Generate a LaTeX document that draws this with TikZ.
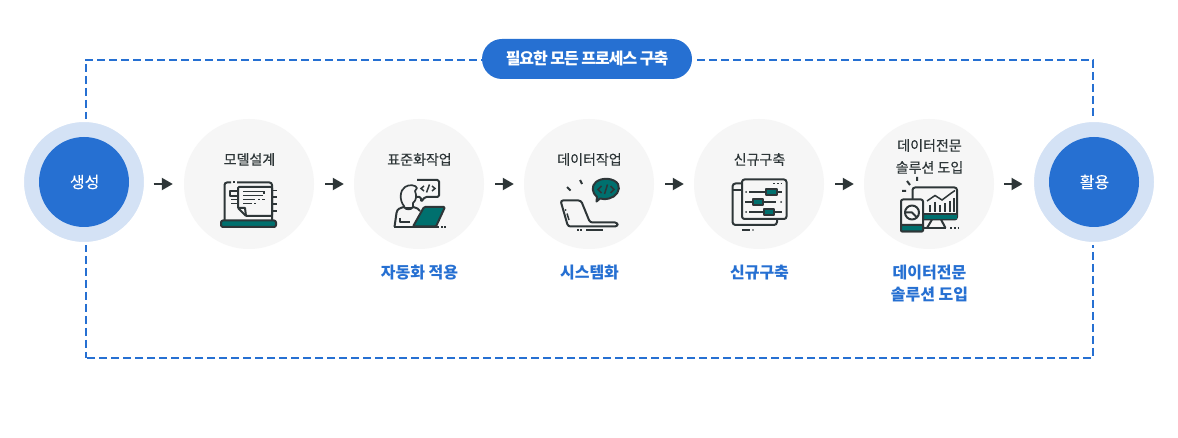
\documentclass[tikz,border=0pt]{standalone}
\usepackage{fontspec}
\setmainfont{Noto Sans CJK KR}
\newfontfamily\medfont[FakeBold=0.4]{Noto Sans CJK KR}
\newfontfamily\headf[LetterSpace=-6.5]{Noto Sans CJK KR}
\usetikzlibrary{calc,arrows.meta}
\definecolor{brand}{HTML}{2670D2}
\definecolor{halo}{HTML}{D4E2F5}
\definecolor{disc}{HTML}{F6F6F6}
\definecolor{ink}{HTML}{2E3638}
\definecolor{teal}{HTML}{00706E}
\tikzset{
  x=1pt,y=-1pt,
  endouter/.style={circle,fill=halo,draw=white,line width=3pt,minimum size=123pt,inner sep=0pt},
  endinner/.style={circle,fill=brand,minimum size=90pt,inner sep=0pt,text=white,font=\medfont\fontsize{16}{16}\selectfont},
  stepdisc/.style={circle,fill=disc,minimum size=130pt,inner sep=0pt},
  steptext/.style={text=ink,inner sep=0pt,align=center,font=\medfont\fontsize{14}{22}\selectfont},
  bluetext/.style={text=brand,inner sep=0pt,align=center,font=\bfseries\fontsize{16}{22}\selectfont},
  pill/.style={rounded corners=20pt,fill=brand,minimum width=210pt,minimum height=40pt,inner sep=0pt,text=white,font=\headf\bfseries\fontsize{16}{16}\selectfont},
  frame/.style={draw=brand,line width=2pt,dash pattern=on 8pt off 4pt},
  flow/.style={draw=ink,line width=2pt,-{Triangle[length=11pt,width=12pt]}},
  ic/.style={draw=ink,line width=2pt,line join=round},
  icf/.style={ic,fill=teal},
  thin/.style={draw=ink,line width=1.5pt},
}
\begin{document}
\begin{tikzpicture}
\useasboundingbox[fill=white] (0,0) rectangle (1178,438);
% frame
\draw[frame] (85,60) -- (1093,60) -- (1093,358) -- (86,358);
\draw[frame] (86,64) -- (86,358);
% pill
\fill[white] (690,50) rectangle (697,70);
\node[pill] (head) at (587,59) {\raisebox{-0.7pt}{필요한 모든 프로세스 구축}};
% main circles
\node[endouter] (startO) at (84,182) {};
\node[endinner] (start) at (84,182) {\hspace*{1.4pt}생성};
\node[stepdisc] (s1) at (249,184) {};
\node[stepdisc] (s2) at (419,184) {};
\node[stepdisc] (s3) at (589,184) {};
\node[stepdisc] (s4) at (759,184) {};
\node[stepdisc] (s5) at (929,184) {};
\node[endouter] (endO) at (1094,182) {};
\node[endinner] (end) at (1094,182) {\hspace*{1pt}활용};
% connectors
\draw[flow] ($(startO.east)+(6.5,2)$) -- ($(s1.west)+(-11,0)$);
\draw[flow] ($(s1.east)+(11,0)$) -- ($(s2.west)+(-10,0)$);
\draw[flow] ($(s2.east)+(11,0)$) -- ($(s3.west)+(-10,0)$);
\draw[flow] ($(s3.east)+(11,0)$) -- ($(s4.west)+(-10,0)$);
\draw[flow] ($(s4.east)+(11,0)$) -- ($(s5.west)+(-10,0)$);
\draw[flow] ($(s5.east)+(10,0)$) -- ($(endO.west)+(-8.5,2)$);
% labels
\node[steptext] (l1) at (249.5,159.5) {모델설계};
\node[steptext] (l2) at (419.5,159.5) {표준화작업};
\node[steptext] (l3) at (589.5,159.5) {데이터작업};
\node[steptext] (l4) at (759.5,159.5) {신규구축};
\node[steptext] (l5) at (929.5,156.5) {데이터전문\\솔루션 도입};
\node[bluetext] (b2) at (419.5,272.8) {자동화 적용};
\node[bluetext] (b3) at (589.5,272.8) {시스템화};
\node[bluetext] (b4) at (759.5,272.8) {신규구축};
\node[bluetext] (b5) at (929.5,283.8) {데이터전문\\솔루션 도입};
% icon 1
\draw[ic,rounded corners=2.5pt] (224.5,220) -- (224.5,182.5) -- (231,182.5);
\draw[ic] (233,182.5) -- (235,182.5);
\draw[ic,rounded corners=2.5pt] (237,182.5) -- (272,182.5) -- (272,220);
\draw[icf,rounded corners=2pt] (221,220.5) rectangle (276,227);
\draw[ic,fill=disc] (230,191.5) rectangle (238,196);
\draw[thin] (231,199.5) -- (238,199.5) (231,203.5) -- (238,203.5);
\draw[ic,fill=disc,rounded corners=1pt] (238,187) -- (272,187) -- (272,216) -- (246,216) -- (238,208) -- cycle;
\draw[ic] (238,208) -- (245,208) -- (246,216);
\draw[thin] (243,191.5) -- (264,191.5) -- (264,194) (243,195.5) -- (263,195.5) (243,199.5) -- (255,199.5) (258,199.5) -- (260,199.5) (262,199.5) -- (265,199.5) (243,203.5) -- (252,203.5) (254,203.5) -- (256,203.5);
\draw[thin] (272,190.5) -- (277,190.5) (272,197) -- (277,197) (272,204) -- (277,204) (272,211) -- (277,211);
% icon 2
\draw[ic,rounded corners=1.5pt] (417,180) -- (439,180) -- (439,197) -- (425,197) -- (421,202) -- (421,197) -- (417,197);
\draw[thin] (424,186) -- (421,188.5) -- (424,191) (432,186) -- (435,188.5) -- (432,191) (429.5,184.5) -- (426.5,192.5);
\draw[ic,line width=1.7pt,fill=disc] (404,206) .. controls (399,200) and (400,190) .. (405,187) .. controls (409,184) and (416,185) .. (417,188) -- (415,191) .. controls (416.5,195) and (417,200) .. (413,203) -- (413,208) -- (404,208) -- cycle;
\draw[ic,fill=disc] (394.5,227) -- (396.5,213) .. controls (397,209) and (400,208) .. (404,207) .. controls (406,210) and (411,210) .. (413,207) .. controls (417,208) and (419,209) .. (420,211);
\draw[ic] (400,218) -- (400,222.5) -- (410,222.5);
\draw[icf,rounded corners=1.2pt] (424,207) -- (445,207) -- (436,226.5) -- (413,226.5) -- cycle;
\draw[ic] (394,227) -- (439,227);
\draw[thin,dash pattern=on 1.6pt off 1.6pt] (441,227) -- (446,227);
% icon 3
\draw[ic,rounded corners=2.5pt] (590,222.5) -- (581,200.5) -- (560.5,200.5) -- (568,226.5) -- (617.5,226.5) -- (617.5,222.5) -- cycle;
\draw[thin] (567,213.5) -- (569,220);
\fill[ink] (565.5,210) circle (1pt);
\draw[ic] (567,187) -- (570.5,190.5) (580,180) -- (582,184);
\draw[icf] (597,197) .. controls (592,193) and (591,186) .. (596,182) .. controls (602,177) and (614,178) .. (618,184) .. controls (621,190) and (616,197) .. (609,198.5) .. controls (605,199.5) and (602,199) .. (600,198.5) -- (596.5,201.5) -- cycle;
\draw[thin] (601.5,186) -- (598,189.5) -- (601.5,193) (610.5,186) -- (614,189.5) -- (610.5,193) (607.5,184.5) -- (604.5,194);
\draw[thin,dash pattern=on 1.6pt off 1.6pt] (577,230) -- (583,230);
\draw[thin] (586,230) -- (603,230);
% icon 4
\draw[ic,rounded corners=3pt] (742,183.5) -- (732.5,183.5) -- (732.5,225) -- (777,225) -- (777,219);
\draw[ic] (732.5,190.5) -- (742,190.5);
\draw[ic,fill=disc,rounded corners=2.5pt] (742,179.5) rectangle (786.5,219);
\draw[thin,dash pattern=on 1.8pt off 2pt] (773,183.5) -- (783,183.5);
\foreach \yy/\ax/\bx/\cx/\dx in {192/749/782/766/777, 212/749/782/764/774}{
  \draw[thin] (\ax,\yy) -- (\bx,\yy);
  \fill[ink] (746,\yy) circle (1pt);
  \draw[ic,fill=teal] (\cx,\yy-3) rectangle (\dx,\yy+3);
}
\draw[thin] (745,202) -- (776,202);
\fill[ink] (781,202) circle (1pt);
\draw[ic,fill=teal] (753,199) rectangle (763,205);
\draw[thin] (742,230) -- (750,230);
\fill[ink] (753,230) circle (.9pt);
% icon 5
\draw[ic] (907,181) -- (910,185) (917,177) -- (917,181) (902,191) -- (906,191);
\draw[ic,rounded corners=2.5pt] (912.5,199) -- (912.5,187.5) -- (957,187.5) -- (957,219.5) -- (923,219.5);
\fill[teal] (923,214.5) rectangle (957,219);
\draw[ic] (923,214) -- (957,214);
\draw[thin] (927,201) -- (935,195.5) -- (942,200) -- (950,194) -- (955,190.5);
\foreach \bx/\by in {930/205,935/202,940/205,945/203,950/201,954/198}{
  \draw[thin] (\bx,\by) -- (\bx,212);
}
\draw[ic] (932,219.5) -- (927,228) (941,219.5) -- (945.5,228);
\draw[ic] (923,228) -- (946,228);
\draw[thin,dash pattern=on 1.8pt off 2pt] (950,228) -- (958,228);
\draw[ic,fill=disc,rounded corners=2pt] (901,199.5) rectangle (923,231.5);
\draw[icf,rounded corners=1pt] (901,225) rectangle (923,231.5);
\draw[ic] (912,212.5) circle (7);
\draw[ic] (905,212.5) -- (912,212.5) -- (917,217.5);
\end{tikzpicture}
\end{document}
